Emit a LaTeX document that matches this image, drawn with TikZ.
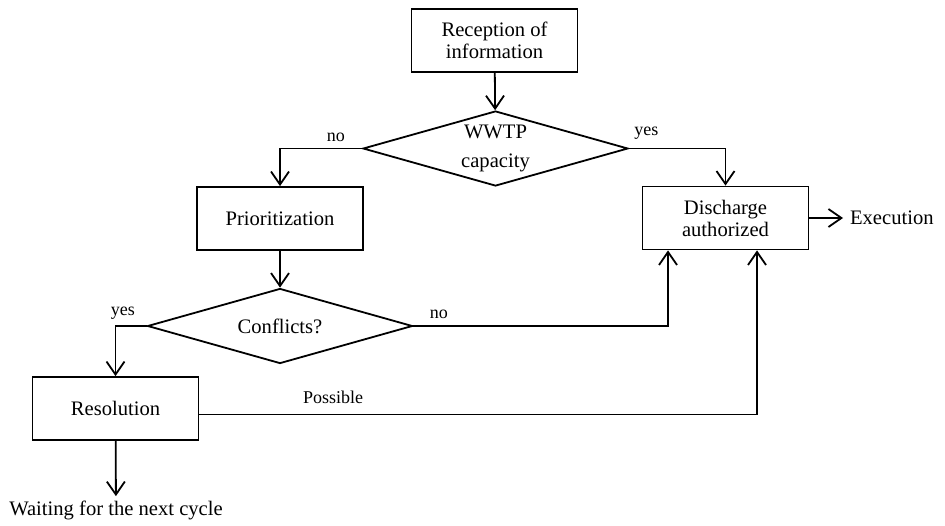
\documentclass[tikz,border=0pt]{standalone}
\usepackage{fontspec}
\setmainfont{Liberation Serif}
\usetikzlibrary{shapes.geometric,arrows.meta}

\tikzset{
    box/.style={draw,line width=0.9pt,minimum width=83pt,minimum height=31.5pt,align=center,font=\fontsize{10.3}{11}\selectfont},
    decide/.style={draw,diamond,line width=0.9pt,aspect=3.5,inner sep=0pt,minimum width=132.5pt,minimum height=37.5pt,align=center,font=\fontsize{10.3}{14.5}\selectfont},
    arr/.style={line width=0.9pt,-{Straight Barb[length=6.5pt,width=9pt,line width=0.9pt]}},
    lbl/.style={font=\fontsize{9}{10}\selectfont,inner sep=1pt},
    txt/.style={font=\fontsize{10.3}{12}\selectfont}
}

\begin{document}
\begin{tikzpicture}[x=0.5pt,y=-0.5pt]
    \useasboundingbox (0,0) rectangle (945,525);
    % boxes and decisions
    \node[box] (recep) at (494.5,40.5) {Reception of\\information};
    \node[decide] (wwtp) at (495.5,148.5) {WWTP\\capacity};
    \node[box] (prio) at (280,218.5) {Prioritization};
    \node[box] (disch) at (725.5,218) {Discharge\\authorized};
    \node[decide] (confl) at (280,326) {Conflicts?};
    \node[box] (resol) at (115.5,408.5) {Resolution};
    \node[txt,anchor=west] (exec) at (843,218) {Execution};
    \node[txt,inner sep=2pt] (wait) at (116,510) {Waiting for the next cycle};
    % connectors
    \draw[arr] (recep) -- (wwtp);
    \draw[arr] (wwtp.west) -| node[lbl,pos=0.16,above=2pt] (wno) {no} (prio.north);
    \draw[arr] (wwtp.east) -| node[lbl,pos=0.09,above=3pt] (wyes) {yes} (disch.north);
    \draw[arr] (prio) -- (confl);
    \draw[arr] (confl.west) -| node[lbl,pos=0.38,above=2pt] (cyes) {yes} (resol.north);
    \draw[arr] (confl.east) -| node[lbl,pos=0.05,above=2pt] (cno) {no} ([xshift=-28.75pt]disch.south);
    \draw[arr] ([yshift=-3pt]resol.east) -| node[lbl,pos=0.12,above=4pt] (poss) {Possible} ([xshift=15.75pt]disch.south);
    \draw[arr] (disch) -- (exec);
    \draw[arr] (resol) -- (wait);
\end{tikzpicture}
\end{document}
